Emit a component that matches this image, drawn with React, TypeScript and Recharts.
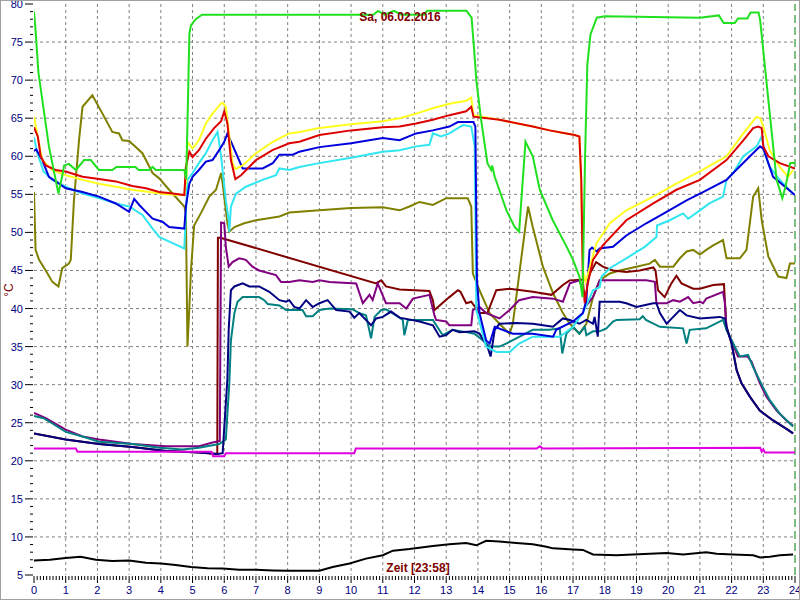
import React from "react";
import { LineChart, Line, XAxis, YAxis, CartesianGrid, ReferenceLine } from "recharts";

type P = [number, number];

const titleText = "Sa, 06.02.2016";
const xAxisTitle = "Zeit [23:58]";
const yAxisTitle = "°C";

const green: P[] = [[0,79],[0.05,76.5],[0.14,71],[0.47,61.3],[0.77,55.1],[0.89,57.4],[0.95,58.8],[1.1,59],[1.32,58.2],[1.58,59.5],[1.79,59.5],[2.05,58.2],[2.47,58.2],[2.6,58.6],[3.2,58.6],[3.3,58.2],[3.63,58.2],[3.74,58.6],[3.84,58.2],[4.74,58.2],[4.8,57],[4.87,70],[4.9,76.1],[4.95,77.2],[5.1,78],[5.3,78.6],[7,78.6],[9,78.6],[10.7,78.6],[10.85,79.1],[11.05,78.6],[11.35,79.1],[11.6,78.6],[12.3,78.6],[12.4,79.1],[13.64,79.1],[13.8,78.2],[13.88,74],[13.95,70],[14.1,64.8],[14.3,59.1],[14.42,58.2],[14.45,58.8],[14.53,57.3],[14.9,52.9],[15.16,50.7],[15.3,50.1],[15.5,61.9],[15.73,60],[15.95,55.6],[16.36,51.6],[16.8,48.1],[17.0,46.4],[17.2,44.2],[17.3,41.5],[17.38,60],[17.45,72],[17.55,76],[17.75,78.2],[18,78.4],[21,78.2],[21.6,78.5],[21.75,77.5],[22.1,77.5],[22.2,78.1],[22.5,78.1],[22.6,78.9],[22.85,78.9],[22.9,77.9],[23.42,56.9],[23.6,54.5],[23.7,56],[23.85,59.1],[24,59.1]];

const yellow: P[] = [[0,65.2],[0.14,62.1],[0.26,59.5],[0.58,58.2],[1,57.5],[1.53,56.9],[2.05,56.4],[2.58,56],[3.1,55.6],[3.63,55.3],[4.16,55],[4.74,54.9],[4.8,57],[4.84,61.9],[5.0,61],[5.2,62.1],[5.42,64.3],[5.63,65.6],[5.9,66.95],[5.95,67],[6.05,66.5],[6.26,59.1],[6.35,58.3],[6.58,58.8],[7,60.4],[7.53,61.9],[8.05,63],[8.37,63.2],[9,63.7],[10,64.2],[11,64.6],[11.53,65],[12.05,65.6],[12.58,66.3],[13.1,66.9],[13.63,67.3],[13.79,67.7],[13.86,65.4],[14.68,64.8],[15.73,63.9],[16.26,63.4],[16.79,63],[17.05,62.8],[17.2,62.6],[17.25,56.9],[17.31,45],[17.4,43.5],[17.73,48.5],[18.16,51.2],[18.68,52.9],[19.53,54.7],[20.26,56.4],[21,58],[21.84,60],[22.37,63],[22.79,65.2],[22.9,65],[23,63.9],[23.2,60.8],[23.52,58.6],[23.78,57.3],[23.94,58.2]];

const red: P[] = [[0,63.8],[0.12,62.6],[0.21,60],[0.37,58.8],[0.68,58.2],[1,58],[1.53,57.3],[2.05,57],[2.58,56.7],[3.1,56.1],[3.53,55.8],[3.95,55.3],[4.37,55.1],[4.74,54.9],[4.79,58.6],[4.9,60.6],[5,59.9],[5.2,60.8],[5.42,62.3],[5.68,63.7],[5.9,64.6],[6,65.9],[6.1,64.3],[6.21,59.5],[6.35,57],[6.53,57.5],[7,59.5],[7.52,60.8],[8.05,61.7],[8.37,61.9],[9,62.8],[10,63.4],[11,63.8],[11.53,63.9],[12.05,64.3],[12.58,64.8],[13.1,65.4],[13.63,65.9],[13.79,66.5],[13.86,65.2],[14.68,64.8],[15.73,63.9],[16.26,63.4],[16.79,63],[17.05,62.8],[17.2,62.6],[17.26,56.9],[17.31,43.7],[17.37,40.7],[17.45,43],[17.63,46.4],[17.94,48.3],[18.68,51.6],[19.53,53.8],[20.26,55.6],[21,56.9],[21.84,59.5],[22.37,62.1],[22.68,63.7],[22.84,63.9],[22.95,63.7],[23.0,61.3],[23.16,60],[23.52,59.1],[24,58.4]];

const blue: P[] = [[0,60.7],[0.07,60.9],[0.26,59.5],[0.47,57.3],[0.79,56.4],[1,55.8],[1.53,55.3],[2.05,54.7],[2.58,53.8],[3,52.7],[3.16,54.4],[3.32,53.6],[3.53,52.7],[3.74,51.8],[4.05,51.4],[4.26,50.7],[4.74,50.5],[4.79,53.4],[4.9,56.4],[5,57.3],[5.2,58.2],[5.42,59.3],[5.63,59.5],[5.84,60.8],[6,61.9],[6.1,63],[6.58,58.4],[7.21,58.4],[7.53,59.1],[7.74,60.2],[8.16,60.2],[8.37,60.6],[9,61.2],[10,61.7],[11,62.4],[11.53,62.1],[12.05,63],[12.58,63.4],[13.1,63.9],[13.37,64.5],[13.86,64.5],[13.92,63.9],[13.97,43.7],[14.05,39.4],[14.26,35.8],[14.37,35.4],[14.53,37.6],[15.1,36.7],[15.73,36.7],[16.37,36.3],[16.47,37.2],[17,38.3],[17.31,39.4],[17.42,41.1],[17.52,47.7],[17.6,48],[17.75,47.5],[17.84,47.9],[18.26,48.1],[18.68,49.6],[19.31,51.2],[19.95,52.7],[20.58,54.2],[21.1,55.3],[21.84,56.9],[22.05,57.8],[22.58,60],[22.9,61.3],[23,61],[23.31,57.3],[23.63,56.2],[24,54.9]];

const cyan: P[] = [[0,62.5],[0.1,60.5],[0.3,58],[0.58,56.9],[1,56],[1.53,55.1],[2.05,54.5],[2.58,53.8],[3,53.4],[3.42,52.3],[3.74,50.5],[3.95,49.4],[4.37,48.6],[4.74,47.9],[4.84,56.9],[5,57.8],[5.2,59.1],[5.42,60.4],[5.63,62.1],[5.79,63.2],[5.9,60],[6.05,54.2],[6.14,51.6],[6.16,50.1],[6.21,53.4],[6.37,55.1],[6.68,56],[7.21,56.9],[7.63,57.5],[7.74,58.4],[8.05,58.2],[8.37,58.6],[9,59.1],[10,59.8],[11,60.6],[11.53,60.8],[12.05,61.3],[12.47,61.5],[12.58,63],[12.84,62.6],[13.1,63],[13.37,63.7],[13.53,64.1],[13.79,63.9],[13.9,61.3],[13.95,39.8],[14.26,35],[14.58,34.3],[15,34.3],[15.3,35.4],[15.73,36.3],[16.58,36.3],[17,37.6],[17.31,39.4],[17.63,42.4],[17.84,42.8],[17.9,44.2],[18.16,45.3],[18.68,46.6],[19.26,48.1],[19.63,49.4],[19.65,50.9],[20.05,51.6],[20.47,52.5],[20.63,51.8],[21,52.9],[21.3,53.8],[21.73,54.7],[21.84,56.9],[22.05,57.8],[22.37,60],[22.79,61.3],[22.95,62.6],[23.05,60.4],[23.2,58.6],[23.52,56.9],[23.94,55.1]];

const olive: P[] = [[0,55.3],[0.05,47.7],[0.16,46.4],[0.37,45],[0.58,43.5],[0.77,42.9],[0.89,45.3],[1.1,45.9],[1.16,46.4],[1.26,54.2],[1.42,62.1],[1.53,66.5],[1.84,68],[2.16,65.6],[2.47,63.2],[2.68,63],[2.79,62.1],[3,62],[3.42,60.4],[3.74,57.8],[3.95,57.1],[4.26,55.6],[4.74,53.4],[4.79,52.5],[4.84,35],[4.9,40.2],[4.95,45],[5.05,50.9],[5.26,52.5],[5.53,54.7],[5.74,55.6],[5.9,57.8],[5.95,56.4],[6.1,51.2],[6.16,50.1],[6.32,50.7],[6.63,51.2],[7,51.6],[7.74,52.1],[8.05,52.6],[8.37,52.7],[9,52.9],[10,53.2],[11,53.3],[11.53,52.9],[11.84,53.4],[12.16,54],[12.58,53.6],[13,54.5],[13.68,54.5],[13.79,53.4],[13.84,44.6],[14.05,42.4],[14.37,39.4],[14.68,38],[15,36.7],[15.1,38],[15.58,53.4],[15.73,50.7],[16.05,45.5],[16.37,42],[16.68,39.4],[16.9,38],[17.2,36.7],[17.42,38],[17.63,41.5],[17.84,43.7],[18.16,44.6],[18.47,45],[19,45.5],[19.42,45.9],[19.58,46.4],[19.74,45.5],[20.16,45.5],[20.37,46.6],[20.58,47.5],[20.79,47.7],[21,47.1],[21.2,47.7],[21.42,48.3],[21.73,49],[21.84,46.6],[22.26,46.6],[22.47,47.7],[22.68,54.7],[22.84,55.8],[22.95,51.6],[23.16,46.8],[23.47,44.2],[23.73,44],[23.84,45.9],[24,45.9]];

const maroon: P[] = [[0,23.6],[1,22.8],[2.05,22.2],[3.1,21.8],[4.16,21.3],[5.2,21.1],[5.78,20.9],[5.8,49.3],[5.88,49.3],[10.79,43.3],[10.95,43.7],[11.1,42.9],[11.53,42.5],[12.47,42.3],[12.58,41.1],[12.63,39.8],[13.1,41.5],[13.37,42.4],[13.45,42.2],[13.63,40.7],[13.79,40.9],[14.05,39.4],[14.3,39.4],[14.58,42.4],[15,42.6],[15.73,42.2],[16.32,41.8],[16.68,43.1],[16.89,43.7],[17.42,43.8],[17.58,45],[17.73,46.1],[17.94,45.5],[18.26,45],[18.68,44.8],[19.1,45],[19.53,45.4],[19.6,45],[19.68,42.4],[19.89,41.5],[20.1,43.3],[20.26,44.3],[20.42,43.3],[20.79,42.6],[21,42.6],[21.42,43.1],[21.76,43.2],[21.82,38.7],[21.84,37.6],[22,35.4],[22.16,31.9],[22.31,30.2],[22.58,28.4],[22.89,26.6],[23.31,25.3],[23.73,24.2],[23.94,23.6]];

const purple: P[] = [[0,26.3],[0.37,25.6],[1,24.1],[1.53,23.2],[2.05,22.8],[3.1,22.2],[4.16,21.9],[5.21,21.9],[5.63,22.4],[5.86,22.6],[5.9,51.3],[6.0,51.2],[6.05,48.1],[6.14,45.5],[6.26,46.1],[6.47,46.6],[6.68,46.4],[6.89,45.5],[7.1,45],[7.63,44.4],[7.79,43.5],[8.05,43.5],[8.37,43.7],[8.79,43.5],[9,43.7],[9.32,43.5],[10.16,43.3],[10.37,40.7],[10.58,41.8],[10.68,41.1],[10.84,43.3],[11.1,40.7],[11.53,40.7],[11.74,40],[11.95,41.3],[12.47,41.8],[12.63,39.1],[12.68,38.5],[13,38.3],[13.1,37.8],[13.79,37.8],[13.84,39.8],[14.05,40.2],[14.26,39.4],[14.68,38.7],[15,39.8],[15.3,41.1],[15.73,41.5],[16.37,41.3],[16.68,40.9],[16.9,43.3],[17.2,43.7],[17.37,42],[17.42,40.4],[17.63,41.5],[17.84,43.7],[19.31,43.7],[19.58,43.5],[19.63,40.7],[19.95,40.7],[20.16,41.1],[20.37,40.9],[20.63,41.5],[20.79,40.7],[21,40.9],[21.1,40.7],[21.2,41.3],[21.73,42.2],[21.79,40.7],[21.84,37.2],[22,35.8],[22.2,33.7],[22.5,33.7],[22.63,33],[22.89,30.2],[23.1,28.4],[23.42,26.6],[23.73,25.3],[23.94,24.6]];

const navy: P[] = [[0,23.6],[1,22.8],[2.05,22.2],[3.1,21.8],[4.16,21.3],[5.2,21.1],[5.79,20.9],[5.95,21],[6.1,30.8],[6.14,37.2],[6.21,42.4],[6.32,42.9],[6.58,43.3],[6.79,42.9],[7.1,42.9],[7.42,42.2],[7.74,41.1],[7.95,40.9],[8.05,41.1],[8.21,40.2],[8.37,40],[8.58,41.1],[8.79,40.2],[9,40.7],[9.26,41.1],[9.53,39.8],[9.95,39.6],[10.1,38.8],[10.26,39.4],[10.63,37.8],[10.79,38.7],[11,38.9],[11.26,39.6],[11.53,38.8],[12.16,38.3],[12.58,37.8],[12.79,36.3],[13,36.5],[13.2,37.2],[13.42,36.9],[13.89,37],[14.05,36.7],[14.3,35],[14.4,33.7],[14.53,37.2],[14.68,38],[15.21,38.1],[15.73,38],[16.37,37.6],[16.68,38.7],[16.9,38.5],[17.2,38],[17.42,38.5],[17.63,38],[17.68,38.9],[17.78,36.3],[17.84,40.9],[18.47,40.9],[18.68,40.7],[19,40.2],[19.53,40.7],[19.63,40.7],[19.74,39.4],[19.95,38],[20.16,38.9],[20.37,39.8],[20.58,39.1],[21,38.7],[21.63,38.9],[21.79,38.7],[21.84,37.6],[22,35.4],[22.16,31.9],[22.31,30.2],[22.58,28.4],[22.89,26.6],[23.31,25.3],[23.73,24.2],[23.94,23.6]];

const teal: P[] = [[0,25.9],[0.3,25.6],[0.58,24.9],[1,23.8],[1.53,23.2],[2.05,22.5],[3.1,22.2],[3.95,21.7],[4.68,21.5],[5.2,21.7],[5.84,22.2],[6.05,22.8],[6.16,30.2],[6.21,35.8],[6.32,39.4],[6.42,40.9],[6.58,41.5],[7.1,41.5],[7.26,41.1],[7.37,40.6],[7.74,40.4],[7.95,39.8],[8.47,39.8],[8.58,39],[8.79,39],[9,39.8],[9.32,40],[10.05,39.9],[10.26,39.4],[10.47,39.1],[10.63,36.1],[10.74,38.9],[10.95,39.8],[11.1,39.9],[11.42,39.1],[11.63,38.5],[11.68,36.5],[11.79,38.5],[12.58,38.5],[12.89,36.5],[13.2,37.2],[13.63,36.9],[13.89,36.7],[14.16,35.8],[14.37,35],[14.68,35],[14.89,35.4],[15.73,37.2],[16.26,37.2],[16.58,37.4],[16.66,34.1],[16.79,36.7],[17,37.6],[17.2,36.7],[17.37,37.6],[17.42,36.5],[17.63,37],[17.84,37],[18.05,37.4],[18.26,38.3],[18.37,38.5],[19.1,38.6],[19.2,39],[19.3,38.5],[19.74,37.6],[20.47,37.4],[20.58,35.4],[20.68,37.2],[21.2,37.4],[21.73,38.5],[21.84,37.2],[22.05,35.4],[22.26,33.7],[22.52,33.9],[22.68,32.3],[22.95,30],[23.2,28],[23.52,26.2],[23.84,24.9],[23.94,24.5]];

const magenta: P[] = [[0,21.6],[1.32,21.6],[1.37,21.2],[5.6,21.2],[5.65,20.6],[6.0,20.6],[6.05,21.0],[10.1,21.0],[10.15,21.6],[15.85,21.6],[15.95,21.9],[16.05,21.6],[22.9,21.7],[22.95,21.2],[23.0,21.5],[23.05,21.1],[24,21.1]];

const black: P[] = [[0,6.9],[0.5,7.0],[1,7.24],[1.47,7.4],[1.95,7.0],[2.47,6.85],[3,6.9],[3.53,6.6],[4,6.5],[4.47,6.3],[4.95,6.05],[5.47,5.9],[5.95,5.85],[6.47,5.7],[7,5.7],[7.53,5.6],[8,5.55],[9,5.55],[9.42,6.05],[9.95,6.5],[10.47,7.15],[11,7.6],[11.32,8.2],[11.84,8.4],[12.58,8.8],[13.1,9.05],[13.63,9.2],[13.95,8.9],[14.26,9.5],[14.68,9.4],[15.21,9.2],[15.73,9.05],[16.16,8.7],[16.37,8.5],[17,8.35],[17.31,8.3],[17.63,7.7],[18.37,7.6],[18.89,7.7],[19.95,7.9],[20.47,7.7],[21.2,8.0],[21.53,7.8],[22.05,7.7],[22.68,7.6],[22.9,7.3],[23.21,7.4],[23.52,7.6],[23.94,7.7]];

const seriesList: { name: string; color: string; pts: P[] }[] = [
  { name: "olive", color: "#808000", pts: olive },
  { name: "maroon", color: "#800000", pts: maroon },
  { name: "purple", color: "#800080", pts: purple },
  { name: "teal", color: "#008080", pts: teal },
  { name: "navy", color: "#000080", pts: navy },
  { name: "cyan", color: "#30e6f0", pts: cyan },
  { name: "blue", color: "#0000dd", pts: blue },
  { name: "yellow", color: "#ffff20", pts: yellow },
  { name: "red", color: "#dd0000", pts: red },
  { name: "green", color: "#20e020", pts: green },
  { name: "magenta", color: "#e000e0", pts: magenta },
  { name: "black", color: "#000000", pts: black },
];

const yTicks = Array.from({ length: 76 }, (_, i) => 5 + i);
const xTicks = Array.from({ length: 241 }, (_, i) => i / 10);
const yGrid = [10, 15, 20, 25, 30, 35, 40, 45, 50, 55, 60, 65, 70, 75];
const xGrid = Array.from({ length: 23 }, (_, i) => i + 1);

const FONT = "'Liberation Sans', Arial, sans-serif";

const YTick = (props: any) => {
  const { x, y, payload } = props;
  const v = payload.value as number;
  const major = v % 5 === 0;
  return (
    <g>
      <line x1={x - (major ? 9 : 4)} x2={x - 1} y1={y} y2={y} stroke="#000" strokeWidth={1} />
      {major && (
        <text x={x - 11} y={y + 4} textAnchor="end" fill="#000080" fontSize={11} fontFamily={FONT}>
          {v}
        </text>
      )}
    </g>
  );
};

const XTick = (props: any) => {
  const { x, y, payload } = props;
  const v = payload.value as number;
  const major = Math.abs(v - Math.round(v)) < 1e-6;
  return (
    <g>
      <line x1={x} x2={x} y1={y + 1} y2={y + (major ? 8 : 5)} stroke="#000" strokeWidth={1} />
      {major && (
        <text x={x} y={y + 19} textAnchor="middle" fill="#000080" fontSize={11} fontFamily={FONT}>
          {Math.round(v)}
        </text>
      )}
    </g>
  );
};

export default function App() {
  return (
    <div style={{ position: "fixed", left: 0, top: 0, width: 800, height: 600, background: "#fff" }}>
      <LineChart width={800} height={600} margin={{ top: 4, right: 5, bottom: 0, left: 0 }}>
        <CartesianGrid
          stroke="#808080"
          strokeDasharray="3 3"
          horizontalValues={yGrid}
          verticalValues={xGrid}
        />
        <XAxis
          type="number"
          dataKey="x"
          domain={[0, 24]}
          ticks={xTicks}
          interval={0}
          height={25}
          axisLine={false}
          tickLine={false}
          tickSize={0}
          tickMargin={0}
          tick={<XTick />}
          allowDataOverflow
        />
        <YAxis
          type="number"
          domain={[5, 80]}
          ticks={yTicks}
          interval={0}
          width={34}
          axisLine={false}
          tickLine={false}
          tickSize={0}
          tickMargin={0}
          tick={<YTick />}
          allowDataOverflow
        />
        <ReferenceLine x={24} stroke="#008000" strokeDasharray="8 4" strokeWidth={1} />
        {seriesList.map((s) => (
          <Line
            key={s.name}
            data={s.pts.map(([x, y]) => ({ x, y }))}
            dataKey="y"
            type="linear"
            stroke={s.color}
            strokeWidth={2}
            dot={false}
            activeDot={false}
            isAnimationActive={false}
          />
        ))}
      </LineChart>
      <div style={{ position: "absolute", left: 0, top: 10, width: 800, textAlign: "center", fontFamily: FONT, fontWeight: "bold", fontSize: 12, color: "#800000", lineHeight: "14px" }}>
        {titleText}
      </div>
      <div style={{ position: "absolute", left: 368, top: 561, width: 100, textAlign: "center", fontFamily: FONT, fontWeight: "bold", fontSize: 12, color: "#800000", lineHeight: "14px" }}>
        {xAxisTitle}
      </div>
      <div style={{ position: "absolute", left: -6, top: 283, width: 30, textAlign: "center", fontFamily: FONT, fontSize: 12, color: "#800000", lineHeight: "14px", transform: "rotate(-90deg)" }}>
        {yAxisTitle}
      </div>
      <div style={{ position: "absolute", left: 0, top: 0, width: 800, height: 600, boxSizing: "border-box", border: "1px solid #a0a0a0", pointerEvents: "none" }} />
    </div>
  );
}
